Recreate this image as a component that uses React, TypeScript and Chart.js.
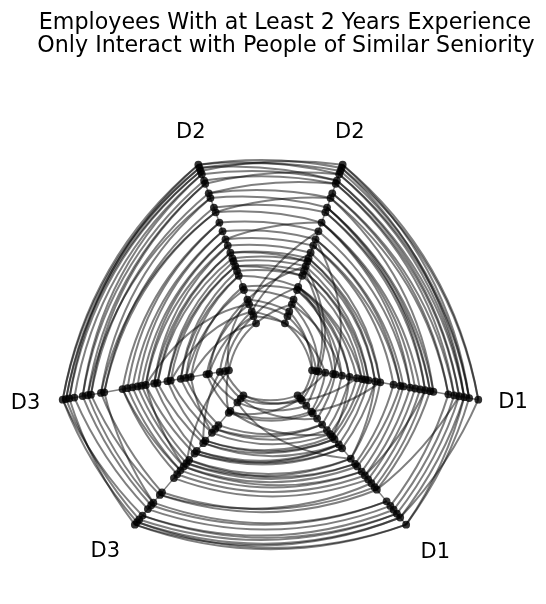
import { useEffect, useRef } from "react";
import { Chart, registerables } from "chart.js";

Chart.register(...registerables);

const titleLines = [
  "Employees With at Least 2 Years Experience",
  "Only Interact with People of Similar Seniority",
];

// Seniority (years) of the employees in each department
const d1Seniority = [0.0, 0.25, 0.4, 0.8, 1.26, 1.4, 1.8, 2.26, 2.7, 3.0, 3.2, 3.4, 3.8, 4.1, 4.9, 5.3, 5.5, 5.9, 6.2, 6.5, 6.8, 7.1, 7.3, 8.2, 8.55, 8.85, 9.15, 9.45, 10.0];
const d2Seniority = [0.0, 0.45, 0.75, 1.2, 1.5, 2.1, 2.3, 3.0, 3.3, 3.6, 3.9, 4.1, 4.45, 4.9, 5.3, 5.8, 6.35, 7.0, 7.3, 7.9, 8.2, 8.8, 9.0, 9.4, 9.6, 9.8, 10.0];
const d3Seniority = [0.0, 0.25, 0.55, 1.2, 1.35, 2.3, 2.6, 2.9, 3.5, 3.7, 4.3, 4.5, 5.0, 5.25, 5.5, 5.8, 6.1, 6.4, 7.5, 7.7, 8.3, 8.5, 8.8, 9.3, 9.6, 9.8, 10.0];

// Axes (each department is drawn twice)
const axisLabels = ["D1", "D1", "D2", "D2", "D3", "D3"];
const axisAnglesDeg = [350, 310, 70, 110, 190, 230];
const axisSeries = [d1Seniority, d1Seniority, d2Seniority, d2Seniority, d3Seniority, d3Seniority];

// Edges: [index on first axis, index on second axis]
const edgesD1D2: [number, number][] = [
  [0, 0], [0, 2], [1, 1], [2, 3], [3, 0], [4, 4], [5, 6], [6, 5], [1, 8], [2, 9], [4, 14], [6, 3],
  [7, 5], [7, 6], [8, 6], [9, 7], [9, 6], [10, 8], [11, 9], [11, 8], [12, 10], [12, 11], [13, 11], [13, 12],
  [14, 13], [15, 14], [15, 13], [16, 14], [17, 15], [17, 16], [18, 16], [19, 16], [20, 17], [20, 18], [21, 17],
  [21, 18], [22, 18], [22, 19], [23, 19], [23, 20], [24, 20], [24, 21], [25, 21], [25, 22], [26, 22], [26, 23],
  [26, 25], [27, 23], [27, 24], [27, 26], [28, 25], [28, 26],
];
const edgesD2D2: [number, number][] = [
  [26, 25], [25, 24], [24, 26], [26, 23], [25, 22], [23, 22], [22, 21], [21, 23], [20, 21], [20, 19], [19, 18],
  [17, 19], [18, 17], [17, 16], [16, 15], [14, 16], [15, 14], [14, 13], [13, 12], [12, 11], [12, 10], [11, 10],
  [10, 9], [9, 8], [9, 7], [8, 7], [7, 6], [6, 5], [5, 4], [4, 2], [3, 1], [2, 0], [1, 0], [0, 3], [2, 12],
  [4, 9], [1, 6], [3, 15],
];
const edgesD2D3: [number, number][] = [
  [26, 26], [25, 25], [24, 24], [23, 23], [26, 24], [25, 26], [24, 25], [23, 22], [22, 22], [21, 21], [21, 20],
  [20, 20], [19, 21], [19, 19], [18, 18], [17, 18], [17, 19], [16, 17], [16, 16], [15, 15], [15, 14], [14, 13],
  [14, 12], [13, 12], [13, 11], [12, 10], [12, 11], [11, 10], [10, 9], [9, 8], [9, 9], [8, 7], [7, 6], [7, 7],
  [6, 5], [5, 6], [4, 3], [3, 4], [2, 2], [1, 1], [0, 0], [0, 5], [2, 8], [3, 12], [1, 3], [4, 0],
];
const edgesD3D3: [number, number][] = [
  [26, 25], [25, 24], [24, 26], [26, 23], [23, 22], [22, 21], [21, 20], [20, 19], [19, 18], [18, 20], [17, 16],
  [17, 15], [16, 15], [15, 14], [14, 13], [13, 12], [12, 14], [12, 11], [11, 10], [10, 9], [9, 8], [8, 7],
  [7, 6], [6, 5], [5, 7], [4, 3], [3, 2], [2, 1], [1, 0], [0, 4], [2, 9], [0, 13],
];
const edgesD3D1: [number, number][] = [
  [26, 28], [26, 27], [25, 27], [25, 28], [24, 26], [23, 25], [23, 26], [22, 24], [21, 23], [20, 23], [19, 22],
  [19, 20], [18, 21], [17, 19], [16, 18], [15, 17], [14, 16], [14, 17], [13, 15], [13, 14], [12, 14], [12, 15],
  [11, 13], [11, 12], [10, 12], [10, 13], [9, 12], [9, 11], [8, 11], [8, 10], [7, 9], [6, 8], [6, 7], [5, 7],
  [4, 5], [3, 4], [2, 3], [1, 1], [0, 0], [0, 2], [1, 6], [3, 9], [4, 1], [2, 14],
];
const edgesD1D1: [number, number][] = [
  [28, 27], [27, 26], [26, 25], [25, 24], [24, 23], [27, 28], [28, 26], [22, 25], [22, 21], [21, 20], [20, 19],
  [19, 18], [18, 17], [18, 20], [17, 16], [16, 15], [15, 14], [14, 13], [14, 12], [13, 12], [12, 11], [11, 10],
  [10, 9], [10, 7], [9, 8], [8, 7], [7, 6], [6, 5], [5, 4], [4, 3], [3, 2], [2, 1], [1, 0], [0, 3], [2, 8], [4, 13],
];

const edgeGroups = [
  { from: 0, to: 2, pairs: edgesD1D2 },
  { from: 3, to: 2, pairs: edgesD2D2 },
  { from: 3, to: 4, pairs: edgesD2D3 },
  { from: 4, to: 5, pairs: edgesD3D3 },
  { from: 5, to: 1, pairs: edgesD3D1 },
  { from: 1, to: 0, pairs: edgesD1D1 },
];

const AXIS_START = 1;
const AXIS_END = 5;
// label placement (layout only)
const labelAnglesDeg = [350.9, 311.2, 71.1, 109.0, 189.1, 228.7];
const labelRadii = [5.82, 5.93, 5.8, 5.8, 5.88, 5.93];

function rho(axis: number, idx: number) {
  const vals = axisSeries[axis];
  const mn = Math.min(...vals);
  const mx = Math.max(...vals);
  return AXIS_START + ((AXIS_END - AXIS_START) * (vals[idx] - mn)) / (mx - mn);
}

function polar(r: number, deg: number) {
  const a = (deg * Math.PI) / 180;
  return { x: r * Math.cos(a), y: r * Math.sin(a) };
}

function midAngle(a: number, b: number) {
  if (Math.abs(a - b) > 180) {
    if (a < b) a += 360;
    else b += 360;
  }
  return (a + b) / 2;
}

const hivePlugin = {
  id: "hive",
  beforeDatasetsDraw(chart: any) {
    const { ctx, scales } = chart;
    const sx = scales.x;
    const sy = scales.y;
    ctx.save();
    ctx.strokeStyle = "rgba(0,0,0,0.5)";
    ctx.lineWidth = 2;
    for (const g of edgeGroups) {
      const a0 = axisAnglesDeg[g.from];
      const a1 = axisAnglesDeg[g.to];
      const am = midAngle(a0, a1);
      for (const [i, j] of g.pairs) {
        const r0 = rho(g.from, i);
        const r1 = rho(g.to, j);
        const p0 = polar(r0, a0);
        const p2 = polar(r1, a1);
        const pc = polar((r0 + r1) / 2, am);
        ctx.beginPath();
        ctx.moveTo(sx.getPixelForValue(p0.x), sy.getPixelForValue(p0.y));
        ctx.quadraticCurveTo(
          sx.getPixelForValue(pc.x),
          sy.getPixelForValue(pc.y),
          sx.getPixelForValue(p2.x),
          sy.getPixelForValue(p2.y)
        );
        ctx.stroke();
      }
    }
    ctx.restore();
  },
  afterDraw(chart: any) {
    const { ctx, scales } = chart;
    const sx = scales.x;
    const sy = scales.y;
    ctx.save();
    ctx.fillStyle = "#000";
    ctx.textAlign = "center";
    ctx.textBaseline = "middle";
    ctx.font = '21px "DejaVu Sans"';
    axisLabels.forEach((lab, k) => {
      const p = polar(labelRadii[k], labelAnglesDeg[k]);
      ctx.fillText(lab, sx.getPixelForValue(p.x), sy.getPixelForValue(p.y) + 1);
    });
    ctx.textBaseline = "alphabetic";
    ctx.font = '22.2px "DejaVu Sans"';
    ctx.fillText(titleLines[0], 285, 28.5);
    ctx.fillText(titleLines[1], 286, 52);
    ctx.restore();
  },
};

export default function App() {
  const ref = useRef<HTMLCanvasElement>(null);

  useEffect(() => {
    const axisDatasets = axisAnglesDeg.map((deg) => ({
      type: "line" as const,
      data: [polar(AXIS_START, deg), polar(AXIS_END, deg)],
      borderColor: "rgba(0,0,0,0.5)",
      borderWidth: 1.5,
      pointRadius: 0,
      showLine: true,
      fill: false,
      order: 2,
    }));
    const nodeDatasets = axisSeries.map((vals, k) => ({
      type: "scatter" as const,
      data: vals.map((_, i) => polar(rho(k, i), axisAnglesDeg[k])),
      backgroundColor: "rgba(0,0,0,0.8)",
      borderWidth: 0,
      pointRadius: 3.9,
      order: 1,
    }));

    const px = 42.2;
    const cx = 270.5;
    const cy = 363;
    const chart = new Chart(ref.current!, {
      type: "scatter",
      data: { datasets: [...nodeDatasets, ...axisDatasets] as any },
      options: {
        animation: false,
        responsive: false,
        devicePixelRatio: 1,
        layout: { padding: 0, autoPadding: false },
        plugins: {
          legend: { display: false },
          tooltip: { enabled: false },
          title: { display: false },
        },
        scales: {
          x: { type: "linear", display: false, min: -cx / px, max: (546 - cx) / px },
          y: { type: "linear", display: false, min: -(604 - cy) / px, max: cy / px },
        },
      },
      plugins: [hivePlugin],
    });
    return () => chart.destroy();
  }, []);

  return (
    <div style={{ position: "absolute", left: 0, top: 0, width: 546, height: 604, background: "#fff" }}>
      <canvas ref={ref} width={546} height={604} style={{ display: "block" }} />
    </div>
  );
}
